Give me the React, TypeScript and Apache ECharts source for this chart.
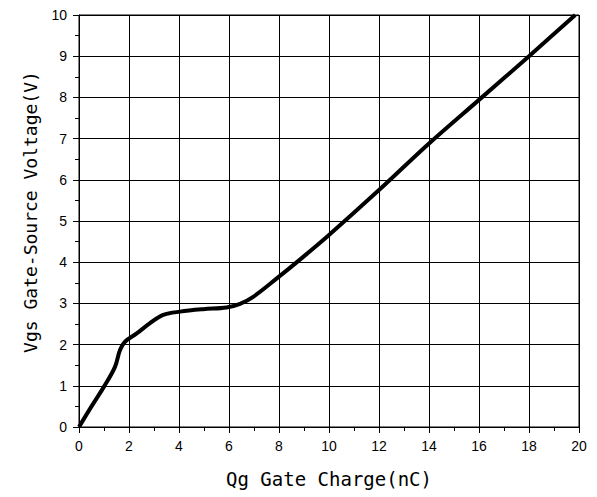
import React, { useEffect, useRef } from "react";
import * as echarts from "echarts";

const qg: number[] = [0, 0.5, 1, 1.44, 1.64, 1.84, 2.31, 2.84, 3.37, 4.04, 4.97, 5.9, 6.44, 6.97, 7.9, 8.97, 10, 12, 14, 16, 18, 19.85];
const vgs: number[] = [0, 0.5, 0.98, 1.46, 1.87, 2.07, 2.27, 2.52, 2.72, 2.8, 2.86, 2.9, 2.99, 3.16, 3.6, 4.13, 4.66, 5.75, 6.88, 7.94, 9.0, 10];

const xTitle = "Qg Gate Charge(nC)";
const yTitle = "Vgs Gate-Source Voltage(V)";

export default function App() {
  const ref = useRef<HTMLDivElement>(null);
  useEffect(() => {
    if (!ref.current) return;
    const chart = echarts.init(ref.current, null, { renderer: "svg" });
    const data = qg.map((x, i) => [x, vgs[i]]);
    chart.setOption({
      animation: false,
      backgroundColor: "#fff",
      grid: { left: 79, right: 18, top: 15, bottom: 70, show: true, borderColor: "#000", borderWidth: 1, backgroundColor: "transparent" },
      xAxis: {
        type: "value",
        min: 0,
        max: 20,
        interval: 2,
        name: xTitle,
        nameLocation: "middle",
        nameGap: 42,
        nameTextStyle: { fontFamily: "DejaVu Sans Mono", fontSize: 19, color: "#000" },
        axisLine: { show: true, lineStyle: { color: "#000", width: 1 } },
        axisTick: { show: true, inside: false, length: 6, lineStyle: { color: "#000" } },
        minorTick: { show: true, splitNumber: 2, length: 4, lineStyle: { color: "#000" } },
        axisLabel: { margin: 12, fontFamily: "Liberation Sans", fontSize: 14, color: "#000" },
        splitLine: { show: true, lineStyle: { color: "#000", width: 1 } },
      },
      yAxis: {
        type: "value",
        min: 0,
        max: 10,
        interval: 1,
        name: yTitle,
        nameLocation: "middle",
        nameGap: 40,
        nameRotate: 90,
        nameTextStyle: { fontFamily: "DejaVu Sans Mono", fontSize: 18, color: "#000", padding: [0, 0, 0, 18] },
        axisLine: { show: true, lineStyle: { color: "#000", width: 1 } },
        axisTick: { show: true, inside: false, length: 6, lineStyle: { color: "#000" } },
        minorTick: { show: true, splitNumber: 2, length: 4, lineStyle: { color: "#000" } },
        axisLabel: { margin: 12, fontFamily: "Liberation Sans", fontSize: 14, color: "#000" },
        splitLine: { show: true, lineStyle: { color: "#000", width: 1 } },
      },
      series: [
        {
          type: "line",
          data,
          smooth: 0.35,
          showSymbol: false,
          symbol: "none",
          lineStyle: { color: "#000", width: 4 },
        },
      ],
    });
    return () => chart.dispose();
  }, []);
  return <div ref={ref} style={{ width: 597, height: 497, position: "absolute", left: 0, top: 0 }} />;
}
